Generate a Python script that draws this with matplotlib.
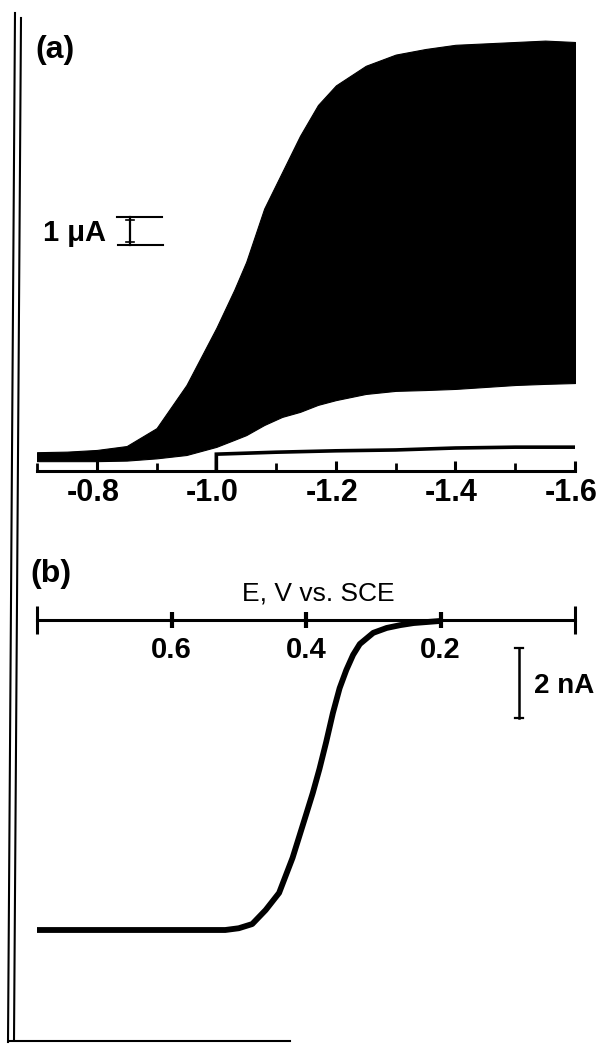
import matplotlib
matplotlib.use("Agg")
import matplotlib.pyplot as plt
from matplotlib.lines import Line2D
from matplotlib.ticker import FixedLocator, FixedFormatter
from matplotlib.transforms import ScaledTranslation

# ---------------- data ----------------
# Panel (a): DC polarogram (drop oscillations), current in uA vs E (V vs SCE)
E_a = [-0.70, -0.75, -0.80, -0.85, -0.90, -0.95, -1.00, -1.03, -1.05, -1.08,
       -1.11, -1.14, -1.17, -1.20, -1.25, -1.30, -1.35, -1.40, -1.45, -1.50,
       -1.55, -1.60]
I_a_upper = [0.10, 0.12, 0.18, 0.32, 0.96, 2.50, 4.54, 5.90, 6.90, 8.80,
             10.10, 11.40, 12.50, 13.20, 13.90, 14.30, 14.50, 14.65, 14.70, 14.75,
             14.80, 14.75]
I_a_lower = [-0.22, -0.22, -0.22, -0.20, -0.12, 0.00, 0.29, 0.54, 0.71, 1.07,
             1.36, 1.54, 1.79, 1.96, 2.18, 2.29, 2.32, 2.36, 2.43, 2.50,
             2.54, 2.57]
# residual (background) trace recorded from -1.0 V
E_res = [-1.00, -1.00, -1.10, -1.20, -1.30, -1.40, -1.50, -1.60]
I_res = [-0.55, 0.03, 0.10, 0.15, 0.18, 0.25, 0.28, 0.28]

ticks_a_major = [-0.8, -1.0, -1.2, -1.4, -1.6]
ticklabels_a = ["-0.8", "-1.0", "-1.2", "-1.4", "-1.6"]
ticks_a_minor = [-0.7, -0.9, -1.1, -1.3, -1.5]

# Panel (b): steady-state voltammogram, current in nA vs E (V vs SCE)
E_b = [0.80, 0.70, 0.60, 0.52, 0.50, 0.48, 0.46, 0.44, 0.42, 0.40,
       0.39, 0.38, 0.37, 0.36, 0.35, 0.34, 0.33, 0.32, 0.30, 0.28,
       0.26, 0.24, 0.22, 0.20]
I_b = [0.00, 0.00, 0.00, 0.00, 0.05, 0.17, 0.57, 1.06, 2.06, 3.29,
       3.91, 4.60, 5.37, 6.20, 6.91, 7.43, 7.86, 8.17, 8.49, 8.63,
       8.71, 8.77, 8.80, 8.83]
ticks_b_major = [0.6, 0.4, 0.2]
ticklabels_b = ["0.6", "0.4", "0.2"]
ticks_b_ends = [0.8, 0.0]

scale_a_uA = 1.0
scale_b_nA = 2.0

# ---------------- figure ----------------
plt.rcParams['axes.unicode_minus'] = False
FONT = ['Liberation Sans', 'DejaVu Sans']
plt.rcParams['font.family'] = FONT

W, H = 602, 1044
fig = plt.figure(figsize=(W / 100, H / 100), dpi=100)
fig.patch.set_facecolor('white')


def box(x0, y0, x1, y1):
    return [x0 / W, 1 - y1 / H, (x1 - x0) / W, (y1 - y0) / H]


def fx(x):
    return x / W


def fy(y):
    return 1 - y / H


# ---- panel (a)
axa = fig.add_axes(box(37, 20, 575, 520))
axa.set_xlim(-0.7, -1.6)
axa.set_ylim(-2.3214, 15.5357)
axa.set_facecolor('none')
axa.fill_between(E_a, I_a_lower, I_a_upper, color='black', lw=0.8)
axa.plot(E_res, I_res, color='black', lw=2.6, solid_joinstyle='miter')
for s in ['top', 'left', 'right']:
    axa.spines[s].set_visible(False)
axa.spines['bottom'].set_position(('data', -0.571))
axa.spines['bottom'].set_linewidth(2.2)
axa.spines['bottom'].set_bounds(-0.7, -1.6)
axa.xaxis.set_major_locator(FixedLocator(ticks_a_major))
axa.xaxis.set_major_formatter(FixedFormatter(ticklabels_a))
axa.xaxis.set_minor_locator(FixedLocator(ticks_a_minor))
axa.tick_params(axis='x', which='major', direction='in', length=7, width=2.2,
                pad=5, labelsize=22)
axa.tick_params(axis='x', which='minor', direction='in', length=6, width=2.0)
shift = ScaledTranslation(-4 / 100, 0, fig.dpi_scale_trans)
for lab in axa.get_xticklabels():
    lab.set_fontweight('bold')
    lab.set_transform(lab.get_transform() + shift)
axa.set_yticks([])

# 1 uA scale bar
Ebar = -0.8555
Itop = 8.5
axa.plot([Ebar, Ebar], [Itop, Itop - scale_a_uA], color='black', lw=1.6)
axa.plot([-0.834, -0.909], [Itop, Itop], color='black', lw=1.5)
axa.plot([-0.836, -0.911], [Itop - scale_a_uA, Itop - scale_a_uA], color='black', lw=1.5)
axa.plot([Ebar - 0.006, Ebar + 0.006], [Itop - 0.12, Itop - 0.12], color='black', lw=1.2)
axa.plot([Ebar - 0.006, Ebar + 0.006], [Itop - scale_a_uA + 0.12] * 2, color='black', lw=1.2)
fig.text(fx(43), fy(233), "1 μA", ha='left', va='center', fontsize=21,
         fontweight='bold')
fig.text(fx(55), fy(50), "(a)", ha='center', va='center', fontsize=23,
         fontweight='bold')

# ---- panel (b)
axb = fig.add_axes(box(37, 560, 575, 1000))
axb.set_xlim(0.8, 0.0)
axb.set_ylim(-2.0, 10.5714)
axb.set_facecolor('none')
axb.plot(E_b, I_b, color='black', lw=4.2, solid_capstyle='butt')
for s in ['top', 'left', 'right']:
    axb.spines[s].set_visible(False)
axb.spines['bottom'].set_position(('data', 8.857))
axb.spines['bottom'].set_linewidth(2.2)
axb.spines['bottom'].set_bounds(0.8, 0.0)
axb.xaxis.set_major_locator(FixedLocator(ticks_b_major))
axb.xaxis.set_major_formatter(FixedFormatter(ticklabels_b))
axb.xaxis.set_minor_locator(FixedLocator(ticks_b_ends))
axb.tick_params(axis='x', which='major', direction='inout', length=11, width=3.0,
                pad=6, labelsize=21)
axb.tick_params(axis='x', which='minor', direction='inout', length=20, width=2.2)
for lab in axb.get_xticklabels():
    lab.set_fontweight('bold')
axb.set_yticks([])

# 2 nA scale bar
Eb_bar = 0.0833
Ib_top = 8.06
axb.plot([Eb_bar, Eb_bar], [Ib_top, Ib_top - scale_b_nA], color='black', lw=1.8)
axb.plot([Eb_bar - 0.006, Eb_bar + 0.006], [Ib_top, Ib_top], color='black', lw=1.6)
axb.plot([Eb_bar - 0.006, Eb_bar + 0.006], [Ib_top - scale_b_nA] * 2, color='black', lw=1.6)
fig.text(fx(534), fy(686), "2 nA", ha='left', va='center', fontsize=20,
         fontweight='bold')
fig.text(fx(318), fy(593), "E, V vs. SCE", ha='center', va='center', fontsize=19)
fig.text(fx(51), fy(574), "(b)", ha='center', va='center', fontsize=23,
         fontweight='bold')

# ---- scanned page frame (double rule on the left, rule at bottom)
fig.add_artist(Line2D([fx(15), fx(8)], [fy(13), fy(1042)], color='black', lw=1.5))
fig.add_artist(Line2D([fx(21), fx(14)], [fy(18), fy(1040)], color='black', lw=1.5))
fig.add_artist(Line2D([fx(9), fx(290)], [fy(1041), fy(1041)], color='black', lw=1.5))

fig.savefig("out.png", dpi=100, facecolor='white')
